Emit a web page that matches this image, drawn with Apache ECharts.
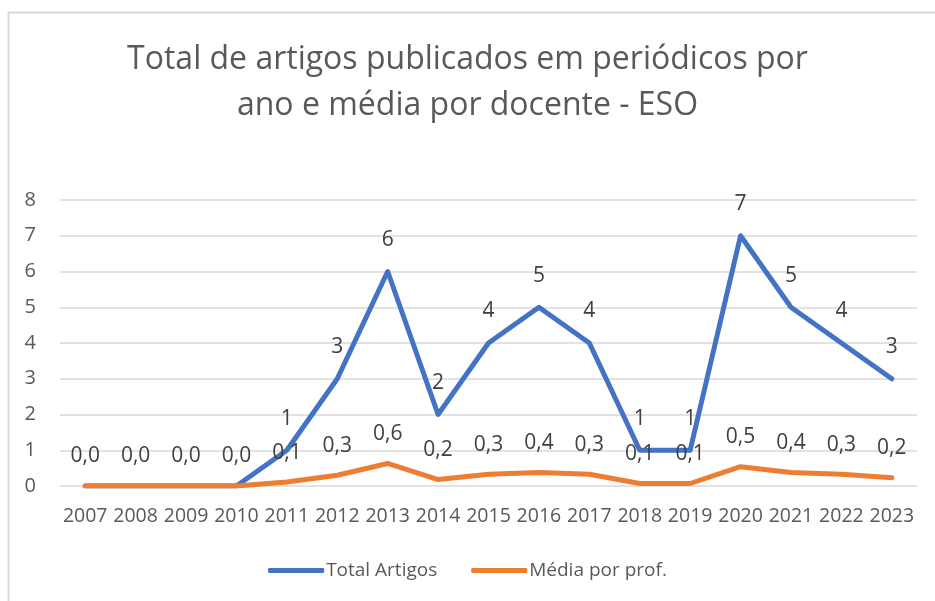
<!DOCTYPE html>
<html>
<head>
<meta charset="utf-8">
<script src="https://cdn.jsdelivr.net/npm/echarts@6/dist/echarts.min.js"></script>
<style>
  html, body { margin: 0; padding: 0; background: #fff; }
  #chart { width: 935px; height: 601px; }
</style>
</head>
<body>
<div id="chart"></div>
<script>
var anos = ["2007", "2008", "2009", "2010", "2011", "2012", "2013", "2014", "2015",
  "2016", "2017", "2018", "2019", "2020", "2021", "2022", "2023"];
var totalArtigos = [0, 0, 0, 0, 1, 3, 6, 2, 4, 5, 4, 1, 1, 7, 5, 4, 3];
var mediaPorProf = [0, 0, 0, 0, 0.11, 0.3, 0.63, 0.18, 0.33, 0.38, 0.33, 0.07, 0.07, 0.54, 0.38, 0.33, 0.23];

var fonte = "'Open Sans', 'Noto Sans', sans-serif";
var cinza = "#595959";

function virgula(v) {
  return v.toFixed(1).replace(".", ",");
}

var myChart = echarts.init(document.getElementById("chart"));
myChart.setOption({
  animation: false,
  textStyle: { fontFamily: fonte },
  title: {
    text: "Total de artigos publicados em periódicos por\nano e média por docente - ESO",
    left: "center",
    top: 32,
    textStyle: {
      fontFamily: fonte,
      fontSize: 32,
      fontWeight: "normal",
      color: cinza,
      lineHeight: 46
    }
  },
  graphic: [{
    type: "rect",
    shape: { x: 8.5, y: 12.5, width: 940, height: 600 },
    style: { fill: null, stroke: "#d9d9d9", lineWidth: 2 },
    silent: true
  }],
  legend: {
    bottom: 16,
    left: "center",
    itemWidth: 56,
    itemHeight: 5,
    itemGap: 34,
    icon: "roundRect",
    textStyle: { fontFamily: fonte, fontSize: 19, color: cinza, padding: [0, 0, 0, -3] },
    data: ["Total Artigos", "Média por prof."]
  },
  grid: {
    left: 60,
    right: 18,
    top: 200,
    bottom: 115
  },
  xAxis: {
    type: "category",
    data: anos,
    boundaryGap: true,
    axisLine: { show: false },
    axisTick: { show: false },
    axisLabel: { fontFamily: fonte, fontSize: 19.5, color: cinza, margin: 20, interval: 0 }
  },
  yAxis: {
    type: "value",
    min: 0,
    max: 8,
    interval: 1,
    axisLabel: { fontFamily: fonte, fontSize: 20, color: cinza, margin: 24 },
    splitLine: { lineStyle: { color: "#d9d9d9", width: 1.5 } }
  },
  series: [
    {
      name: "Total Artigos",
      type: "line",
      data: totalArtigos,
      symbol: "circle",
      symbolSize: 0,
      showSymbol: true,
      z: 2,
      color: "#4472C4",
      lineStyle: { width: 5, cap: "round", join: "round" },
      label: {
        show: true,
        position: "top",
        distance: 21,
        fontFamily: fonte,
        fontSize: 21,
        color: "#404040",
        formatter: function (p) { return p.value === 0 ? "" : String(p.value); }
      }
    },
    {
      name: "Média por prof.",
      type: "line",
      data: mediaPorProf,
      symbol: "circle",
      symbolSize: 0,
      showSymbol: true,
      z: 3,
      color: "#ED7D31",
      lineStyle: { width: 5, cap: "round", join: "round" },
      label: {
        show: true,
        position: "top",
        distance: 19,
        fontFamily: fonte,
        fontSize: 21,
        color: "#404040",
        formatter: function (p) { return virgula(p.value); }
      }
    }
  ]
});
</script>
</body>
</html>
